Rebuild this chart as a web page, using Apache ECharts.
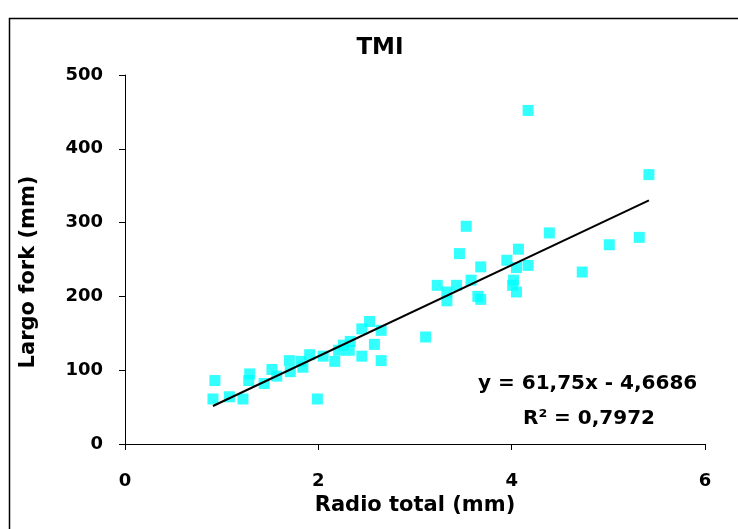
<!DOCTYPE html>
<html>
<head>
<meta charset="utf-8">
<script src="https://cdn.jsdelivr.net/npm/echarts@6/dist/echarts.min.js"></script>
<style>
html,body{margin:0;padding:0;background:#fff;}
#c{width:738px;height:529px;}
</style>
</head>
<body>
<div id="c"></div>
<script>
var titleText = 'TMI';
var xName = 'Radio total (mm)';
var yName = 'Largo fork (mm)';
var xValues = [0.93,0.91,1.08,1.22,1.29,1.28,1.44,1.52,1.57,1.70,1.71,1.82,1.84,1.91,2.05,2.17,2.21,2.26,2.33,2.32,2.45,2.45,2.53,2.65,2.58,2.65,1.99,3.11,4.17,5.42,3.53,3.46,3.23,3.33,3.33,3.43,3.58,3.68,3.65,3.68,3.95,4.07,4.05,4.17,4.02,4.01,4.05,4.39,4.73,5.01,5.32];
var yValues = [86,61,64,61,95,86,82,101,92,113,98,112,104,121,119,112,127,134,139,127,119,156,166,154,135,113,61,145,452,365,295,258,215,206,194,215,222,240,200,196,249,264,239,242,222,215,206,286,233,270,280];
var slope = 61.75;
var intercept = -4.6686;
var eqText = 'y = 61,75x - 4,6686';
var r2Text = 'R\u00B2 = 0,7972';

var points = xValues.map(function(x, i){ return [x, yValues[i]]; });
var xMin = Math.min.apply(null, xValues);
var xMax = Math.max.apply(null, xValues);
var trend = [[xMin, slope*xMin + intercept], [xMax, slope*xMax + intercept]];

var font = '"DejaVu Sans", Arial, sans-serif';
var chart = echarts.init(document.getElementById('c'));
chart.setOption({
  animation: false,
  backgroundColor: '#fff',
  title: {
    text: titleText, left: 375, top: 32, textAlign: 'center',
    textStyle: {fontFamily: font, fontWeight: 'bold', fontSize: 23, color: '#000'}
  },
  grid: {left: 125, right: 33, top: 75, bottom: 85},
  xAxis: {
    type: 'value', min: 0, max: 6, interval: 2,
    name: xName, nameLocation: 'middle', nameGap: 47,
    nameTextStyle: {fontFamily: font, fontWeight: 'bold', fontSize: 21, color: '#000'},
    axisLine: {show: true, onZero: false, lineStyle: {color: '#000', width: 1}},
    axisTick: {show: true, inside: false, length: 6, lineStyle: {color: '#000'}},
    axisLabel: {fontFamily: font, fontWeight: 'bold', fontSize: 18, color: '#000', margin: 28},
    splitLine: {show: false}
  },
  yAxis: {
    type: 'value', min: 0, max: 500, interval: 100,
    axisLine: {show: true, lineStyle: {color: '#000', width: 1}},
    axisTick: {show: true, inside: false, length: 6, lineStyle: {color: '#000'}},
    axisLabel: {fontFamily: font, fontWeight: 'bold', fontSize: 18, color: '#000', margin: 22},
    splitLine: {show: false}
  },
  series: [
    {
      type: 'scatter', data: points, symbol: 'rect', symbolSize: 11,
      itemStyle: {color: '#00FFFF'}, z: 2
    },
    {
      type: 'line', data: trend, symbol: 'none',
      lineStyle: {color: '#000', width: 2}, z: 3
    }
  ],
  graphic: [
    {type: 'rect', left: 7, top: 16, shape: {width: 740, height: 530},
     style: {fill: 'none', stroke: '#000', lineWidth: 1.5}, silent: true},
    {type: 'text', x: 29, y: 272, rotation: Math.PI / 2,
     style: {text: yName, font: 'bold 21px ' + font, fill: '#000', align: 'center', verticalAlign: 'middle'}},
    {type: 'text', left: 478, top: 374,
     style: {text: eqText, font: 'bold 20px ' + font, fill: '#000'}},
    {type: 'text', left: 523, top: 409,
     style: {text: r2Text, font: 'bold 20px ' + font, fill: '#000'}}
  ]
});
</script>
</body>
</html>
